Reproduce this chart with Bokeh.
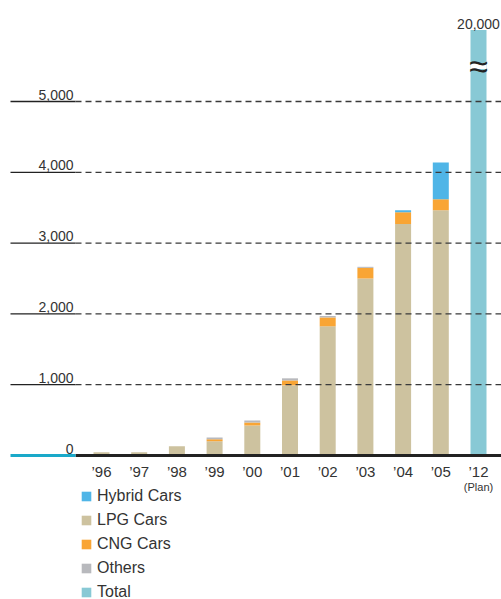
from bokeh.plotting import figure
from bokeh.models import Range1d, ColumnDataSource, Legend, LegendItem
from bokeh.core.properties import value
from bokeh.embed import file_html
from bokeh.resources import INLINE

# ---- data ----
years = ["\u201996", "\u201997", "\u201998", "\u201999", "\u201900", "\u201901",
         "\u201902", "\u201903", "\u201904", "\u201905", "\u201912"]
lpg = [45, 45, 130, 200, 425, 990, 1825, 2500, 3270, 3465, 0]
cng = [0, 0, 0, 28, 40, 70, 125, 150, 165, 155, 0]
others = [0, 0, 0, 28, 30, 30, 20, 15, 0, 0, 0]
hybrid = [0, 0, 0, 0, 0, 0, 0, 0, 30, 520, 0]
total = [0, 0, 0, 0, 0, 0, 0, 0, 0, 0, 20000]
y_ticks = [1000, 2000, 3000, 4000, 5000]
plan_note = "(Plan)"

# ---- styling / layout constants ----
W, H = 501, 599
PX_PER_BAR = 37.7
X0_PX = 101
Y0_PX = 455
PX_PER_UNIT = 0.0708
Y_CAP = 6010  # visible top of the broken bar

C_HYB = "#4FB5E7"
C_LPG = "#CDC29F"
C_CNG = "#F9A534"
C_OTH = "#B8B9BD"
C_TOT = "#88C9D5"
C_AXL = "#1AA9C9"
FONT = "Liberation Sans"

x_start = -X0_PX / PX_PER_BAR
x_end = (W - X0_PX) / PX_PER_BAR
y_end = Y0_PX / PX_PER_UNIT
y_start = -(H - Y0_PX) / PX_PER_UNIT

p = figure(width=W, height=H, output_backend="svg", toolbar_location=None,
           x_range=Range1d(x_start, x_end), y_range=Range1d(y_start, y_end),
           min_border=0, outline_line_color=None)
p.axis.visible = False
p.grid.visible = False
p.background_fill_color = "white"

idx = list(range(len(years)))
bw = 16 / PX_PER_BAR
src = ColumnDataSource(dict(x=idx, lpg=lpg, cng=cng, others=others, hybrid=hybrid,
                            total_disp=[min(v, Y_CAP) for v in total]))

stack = p.vbar_stack(["lpg", "cng", "others", "hybrid"], x="x", width=bw, source=src,
                     color=[C_LPG, C_CNG, C_OTH, C_HYB], line_color=None)
tot = p.vbar(x="x", top="total_disp", width=bw, source=src, color=C_TOT, line_color=None)

# grid lines (on top of bars)
lab_left = (10 - X0_PX) / PX_PER_BAR
lab_right = (75 - X0_PX) / PX_PER_BAR
p.segment(x0=[lab_right] * len(y_ticks), x1=[x_end] * len(y_ticks), y0=y_ticks, y1=y_ticks,
          line_color="#3a3a3a", line_width=1.3, line_dash="6 4")
p.segment(x0=[lab_left] * len(y_ticks), x1=[lab_right] * len(y_ticks), y0=y_ticks, y1=y_ticks,
          line_color="#222222", line_width=1.3)
# baseline
p.segment(x0=[lab_right], x1=[x_end], y0=[0], y1=[0], line_color="#222222", line_width=3)
p.segment(x0=[lab_left], x1=[lab_right], y0=[0], y1=[0], line_color=C_AXL, line_width=3)

# y tick labels
tick_vals = [0] + y_ticks
p.text(x=[lab_right - 0.05] * len(tick_vals), y=tick_vals,
       text=[f"{v:,}" for v in tick_vals], text_align="right", text_baseline="bottom",
       y_offset=-2, text_font=value(FONT), text_font_size="14px", text_color="#333333")

# x labels
p.text(x=idx, y=[0] * len(idx), text=years, text_align="center", text_baseline="top",
       y_offset=7, text_font=value(FONT), text_font_size="15px", text_color="#333333")
p.text(x=[idx[-1]], y=[0], text=[plan_note], text_align="center", text_baseline="top",
       y_offset=25, text_font=value(FONT), text_font_size="11px", text_color="#333333")

# broken bar: value label and break symbol
p.text(x=[idx[-1]], y=[Y_CAP], text=[f"{total[-1]:,}"], text_align="center",
       text_baseline="bottom", y_offset=-1, text_font=value(FONT),
       text_font_size="14px", text_color="#333333")
p.rect(x=[idx[-1]], y=[Y_CAP - 510], width=bw, height=6, height_units="screen",
       color="white", line_color=None)
p.text(x=[idx[-1]], y=[Y_CAP - 510], text=["\u2248"], text_align="center",
       text_baseline="middle", text_font=value(FONT),
       text_font_size="34px", text_color="#222222")

# legend
legend = Legend(items=[
    LegendItem(label="Hybrid Cars", renderers=[stack[3]]),
    LegendItem(label="LPG Cars", renderers=[stack[0]]),
    LegendItem(label="CNG Cars", renderers=[stack[1]]),
    LegendItem(label="Others", renderers=[stack[2]]),
    LegendItem(label="Total", renderers=[tot]),
], location=(80, -2), orientation="vertical", border_line_color=None,
    background_fill_alpha=0, padding=0, margin=0, spacing=6,
    glyph_width=12, glyph_height=12, label_height=18, label_standoff=5,
    label_text_font=FONT, label_text_font_size="16px", label_text_color="#333333")
p.add_layout(legend)

open("out.html", "w").write(file_html(p, INLINE))
